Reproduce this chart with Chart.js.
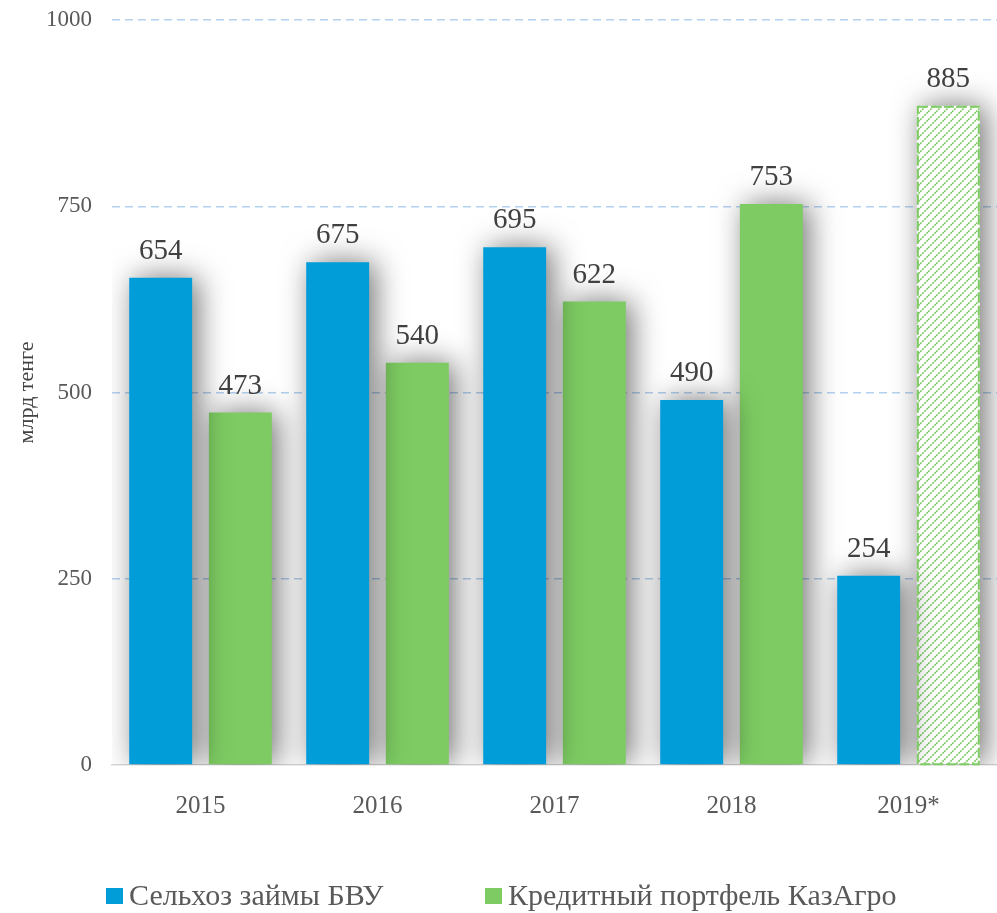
<!DOCTYPE html>
<html>
<head>
<meta charset="utf-8">
<script src="https://cdn.jsdelivr.net/npm/chart.js@4.4.1/dist/chart.umd.min.js"></script>
<style>
  html, body { margin: 0; padding: 0; background: #ffffff; }
  #wrap { width: 997px; height: 913px; position: relative; }
</style>
</head>
<body>
<div id="wrap"><canvas id="mainChart"></canvas></div>
<script>
// Data
const years = ["2015", "2016", "2017", "2018", "2019*"];
const bankLoans = [654, 675, 695, 490, 254];
const kazagroPortfolio = [473, 540, 622, 753, 885];
const yTicks = [0, 250, 500, 750, 1000];
const seriesNames = ["Сельхоз займы БВУ", "Кредитный портфель КазАгро"];
const forecastIndex = 4; // 2019* green bar is hatched

// Colors
const BLUE = "#009dd9";
const GREEN = "#7dcb62";
const FONT = "'Liberation Serif', 'DejaVu Serif', serif";

// Hatch pattern for the forecast bar
const makeHatch = () => {
  const c = document.createElement("canvas");
  c.width = 8;
  c.height = 8;
  const x = c.getContext("2d");
  x.fillStyle = "#ffffff";
  x.fillRect(0, 0, 8, 8);
  x.strokeStyle = GREEN;
  x.lineWidth = 1.6;
  x.setLineDash([2, 1]);
  x.beginPath();
  x.moveTo(0, 8); x.lineTo(8, 0);
  x.moveTo(-2, 2); x.lineTo(2, -2);
  x.moveTo(6, 10); x.lineTo(10, 6);
  x.stroke();
  return document.getElementById("mainChart").getContext("2d").createPattern(c, "repeat");
};
const hatch = makeHatch();

// Soft shadow under bars
const shadowPlugin = {
  id: "barShadow",
  beforeDatasetDraw(chart) {
    const ctx = chart.ctx;
    ctx.save();
    ctx.shadowColor = "rgba(0,0,0,0.55)";
    ctx.shadowBlur = 30;
    ctx.shadowOffsetX = 6;
    ctx.shadowOffsetY = 0;
  },
  afterDatasetDraw(chart) {
    chart.ctx.restore();
  },
};

// Dashed border of the forecast bar + value labels
const labelPlugin = {
  id: "valueLabels",
  afterDatasetsDraw(chart) {
    const ctx = chart.ctx;
    ctx.save();
    const el = chart.getDatasetMeta(1).data[forecastIndex];
    if (el) {
      const half = el.width / 2;
      ctx.strokeStyle = GREEN;
      ctx.lineWidth = 2;
      ctx.setLineDash([10, 3]);
      ctx.strokeRect(el.x - half + 1, el.y + 1, el.width - 2, el.base - el.y - 1);
      ctx.setLineDash([]);
    }
    ctx.font = "29px " + FONT;
    ctx.fillStyle = "#404040";
    ctx.textAlign = "center";
    ctx.textBaseline = "alphabetic";
    chart.data.datasets.forEach((ds, i) => {
      chart.getDatasetMeta(i).data.forEach((bar, j) => {
        ctx.fillText(String(ds.data[j]), bar.x, bar.y - 19);
      });
    });
    ctx.restore();
  },
};

// Legend drawn at the bottom
const legendPlugin = {
  id: "bottomLegend",
  afterDraw(chart) {
    const ctx = chart.ctx;
    const items = [
      { text: seriesNames[0], color: BLUE, x: 106 },
      { text: seriesNames[1], color: GREEN, x: 485 },
    ];
    ctx.save();
    ctx.font = "30px " + FONT;
    ctx.textBaseline = "alphabetic";
    ctx.textAlign = "left";
    items.forEach((it) => {
      ctx.fillStyle = it.color;
      ctx.fillRect(it.x, 888, 17, 16);
      ctx.fillStyle = "#595959";
      ctx.fillText(it.text, it.x + 23, 905);
    });
    ctx.restore();
  },
};

const initChart = () => {
  const ctx = document.getElementById("mainChart").getContext("2d");
  new Chart(ctx, {
    type: "bar",
    data: {
      labels: years,
      datasets: [
        {
          label: seriesNames[0],
          data: bankLoans,
          backgroundColor: BLUE,
          borderWidth: 0,
          barPercentage: 0.79,
          categoryPercentage: 0.9,
        },
        {
          label: seriesNames[1],
          data: kazagroPortfolio,
          backgroundColor: kazagroPortfolio.map((v, i) => (i === forecastIndex ? hatch : GREEN)),
          borderWidth: 0,
          barPercentage: 0.79,
          categoryPercentage: 0.9,
        },
      ],
    },
    options: {
      responsive: true,
      maintainAspectRatio: false,
      animation: false,
      layout: { padding: { top: 20, bottom: 98, right: 0, left: 14 } },
      plugins: {
        legend: { display: false },
        tooltip: { enabled: false },
      },
      scales: {
        y: {
          min: 0,
          max: 1000,
          afterBuildTicks: (s) => { s.ticks = yTicks.map((v) => ({ value: v })); },
          afterFit: (s) => {
            s.width = 98;
            s.paddingTop = 0;
            s.paddingBottom = 0;
          },
          grid: {
            color: (c) => (c.tick.value === 0 ? "rgba(0,0,0,0)" : "#b4d2f0"),
            lineWidth: 1.4,
            drawTicks: false,
          },
          border: { display: false, dash: [8, 5] },
          ticks: {
            color: "#595959",
            font: { family: FONT, size: 23 },
            padding: 20,
            callback: (v) => String(v),
          },
          title: {
            display: true,
            text: "млрд тенге",
            color: "#404040",
            font: { family: FONT, size: 22 },
            padding: { top: 0, bottom: 6 },
          },
        },
        x: {
          afterFit: (s) => { s.height = 50; },
          grid: { display: false },
          border: { display: true, color: "#d9d9d9", width: 1.5 },
          ticks: {
            color: "#595959",
            font: { family: FONT, size: 25 },
            padding: 18,
          },
        },
      },
    },
    plugins: [shadowPlugin, labelPlugin, legendPlugin],
  });
};

window.addEventListener("DOMContentLoaded", initChart);
</script>
</body>
</html>
